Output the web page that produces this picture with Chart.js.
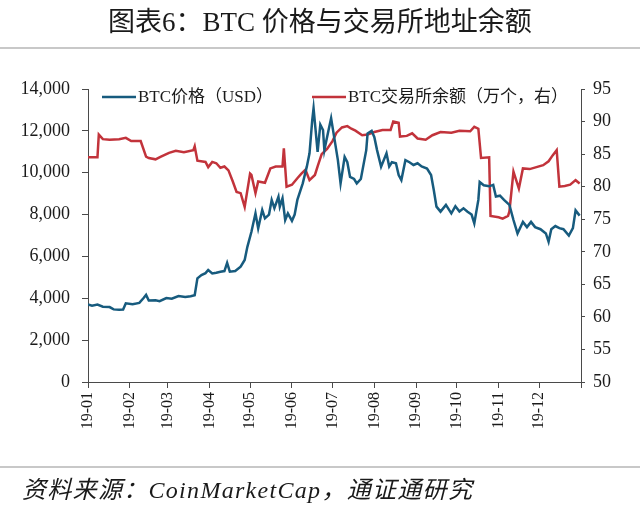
<!DOCTYPE html>
<html>
<head>
<meta charset="utf-8">
<script src="https://cdn.jsdelivr.net/npm/chart.js@4.4.1/dist/chart.umd.min.js"></script>
<style>
    html, body { margin: 0; padding: 0; background: #fff; }
    #wrap { position: relative; width: 640px; height: 507px; overflow: hidden; }
    #chart { position: absolute; left: 0; top: 0; }
    .title {
        position: absolute; left: 0; top: 5px; width: 640px; text-align: center;
        font-family: "Liberation Serif", "Noto Sans CJK SC", serif;
        font-size: 27px; line-height: 34px; color: #1a1a1a;
    }
    .rule { position: absolute; left: 0; width: 640px; height: 2px; background: #c8c8c8; }
    .source {
        position: absolute; left: 22px; top: 474px;
        font-family: "Liberation Serif", "Noto Sans CJK SC", serif;
        font-style: italic; font-size: 24px; letter-spacing: 1.3px; line-height: 32px; color: #1a1a1a;
    }
</style>
</head>
<body>
<div id="wrap">
    <canvas id="chart" width="640" height="507"></canvas>
    <div class="title">图表6：BTC 价格与交易所地址余额</div>
    <div class="rule" style="top:47px"></div>
    <div class="rule" style="top:466px"></div>
    <div class="source">资料来源：CoinMarketCap，通证通研究</div>
</div>
<script>
// --- Data (day of year 2019) ---

const monthTicks = [0, 31, 59, 90, 120, 151, 181, 212, 243, 273, 304, 334, 365];
const monthLabels = ['19-01', '19-02', '19-03', '19-04', '19-05', '19-06',
    '19-07', '19-08', '19-09', '19-10', '19-11', '19-12', ''];

const priceDays = [0, 3, 7, 11, 16, 19, 23, 26, 28, 33, 38, 41, 43, 45, 50, 53, 58, 62, 67, 72,
    76, 79, 81, 84, 87, 89, 92, 95, 98, 101, 103, 105, 109, 113, 116, 118, 121, 124, 126, 129,
    131, 134, 136, 138, 141, 142, 144, 146, 148, 151, 153, 155, 159, 162, 164, 166, 167, 170, 172, 174,
    175, 178, 180, 183, 185, 187, 190, 192, 194, 197, 199, 202, 206, 207, 210, 212, 214, 217, 221, 223,
    225, 228, 230, 232, 235, 238, 241, 244, 247, 251, 254, 256, 258, 261, 265, 269, 272, 275, 278, 281,
    284, 286, 289, 290, 293, 297, 300, 302, 305, 308, 312, 315, 318, 322, 325, 328, 331, 335, 339, 341,
    343, 346, 349, 352, 356, 359, 361, 364];
const priceValues = [3710, 3650, 3700, 3600, 3580, 3470, 3450, 3460, 3760, 3720, 3780, 4000, 4160, 3890, 3900, 3860, 4010, 3980, 4110, 4060,
    4100, 4150, 4950, 5110, 5200, 5350, 5190, 5220, 5270, 5300, 5690, 5270, 5300, 5510, 5830, 6460, 7180, 8060, 7340, 8220,
    7820, 8000, 8700, 8310, 8850, 8380, 8780, 7740, 8060, 7700, 8000, 8700, 9490, 10290, 10930, 12500, 13080, 11000, 12300, 12040,
    11080, 12000, 12600, 11400, 10600, 9490, 10750, 10500, 9800, 9700, 9490, 9700, 11080, 11880, 12000, 11700, 11080, 10290, 10930, 10300,
    10500, 10450, 9890, 9650, 10600, 10500, 10370, 10450, 10300, 10200, 9890, 9170, 8380, 8140, 8460, 8060, 8400, 8150, 8300, 8140,
    8000, 7580, 8700, 9560, 9400, 9350, 9420, 8860, 8900, 8700, 8460, 7740, 7100, 7650, 7400, 7650, 7400, 7300, 7100, 6700,
    7300, 7450, 7350, 7300, 7000, 7350, 8200, 7950];

const reserveDays = [0, 7, 8, 11, 16, 23, 28, 32, 39, 43, 45, 50, 54, 60, 65, 71, 78, 79, 81, 87,
    89, 92, 95, 98, 101, 104, 107, 110, 113, 116, 120, 121, 124, 126, 131, 135, 139, 144, 145, 147,
    151, 155, 158, 161, 164, 168, 170, 173, 177, 181, 184, 188, 192, 195, 198, 203, 207, 212, 218, 224,
    226, 230, 231, 236, 240, 244, 250, 255, 261, 269, 275, 283, 286, 289, 291, 297, 298, 304, 307, 311,
    312, 315, 317, 319, 322, 327, 332, 337, 341, 344, 347, 349, 353, 357, 361, 364];
const reserveValues = [84.5, 84.5, 88.0, 87.3, 87.2, 87.3, 87.5, 87.0, 87.0, 84.6, 84.4, 84.2, 84.6, 85.2, 85.5, 85.3, 85.6, 86.2, 84.0, 83.8,
    83.0, 83.8, 83.6, 82.9, 83.1, 82.5, 80.9, 79.2, 79.0, 76.9, 82.0, 81.8, 79.0, 80.8, 80.6, 82.8, 83.1, 83.1, 85.9, 80.0,
    80.3, 81.3, 82.0, 82.6, 81.0, 81.8, 83.1, 85.0, 85.8, 87.0, 88.3, 89.1, 89.3, 88.9, 88.6, 87.9, 88.0, 88.4, 88.7, 88.7,
    90.0, 89.8, 87.7, 87.8, 88.2, 87.4, 87.2, 87.9, 88.4, 88.3, 88.6, 88.5, 89.2, 88.9, 84.4, 84.5, 75.5, 75.3, 75.1, 75.5,
    76.2, 82.3, 81.0, 79.7, 82.8, 82.7, 83.0, 83.3, 83.9, 84.8, 85.6, 80.0, 80.1, 80.3, 81.0, 80.5];

const seriesNames = ['BTC价格（USD）', 'BTC交易所余额（万个，右）'];
const BLUE = '#175b7e';
const RED = '#c2333b';
const AXIS = '#4a4a4a';
const FONT = '"Liberation Serif", "Noto Sans CJK SC", serif';

const toPoints = (xs, ys) => xs.map((x, i) => ({ x, y: ys[i] }));

// --- Legend drawn inside the plot area ---

const insideLegend = {
    id: 'insideLegend',
    afterDraw(chart) {
        const { ctx, chartArea } = chart;
        const offsets = [14, 224];
        ctx.save();
        ctx.font = '17px ' + FONT;
        ctx.textBaseline = 'middle';
        chart.data.datasets.forEach((ds, i) => {
            const x = chartArea.left + offsets[i];
            const y = chartArea.top + 8;
            ctx.strokeStyle = ds.borderColor;
            ctx.lineWidth = 2.5;
            ctx.beginPath();
            ctx.moveTo(x, y);
            ctx.lineTo(x + 34, y);
            ctx.stroke();
            ctx.fillStyle = '#1a1a1a';
            ctx.fillText(ds.label, x + 36, y + 1);
        });
        ctx.restore();
    }
};

new Chart(document.getElementById('chart'), {
    type: 'line',
    data: {
        datasets: [{
            label: seriesNames[0],
            data: toPoints(priceDays, priceValues),
            borderColor: BLUE,
            borderWidth: 2.5,
            pointRadius: 0,
            yAxisID: 'y'
        }, {
            label: seriesNames[1],
            data: toPoints(reserveDays, reserveValues),
            borderColor: RED,
            borderWidth: 2.5,
            pointRadius: 0,
            yAxisID: 'y1'
        }]
    },
    options: {
        responsive: false,
        animation: false,
        layout: { padding: { top: 89, left: 0, right: 0, bottom: 0 } },
        plugins: { legend: { display: false }, tooltip: { enabled: false } },
        scales: {
            x: {
                type: 'linear',
                min: 0,
                max: 365,
                afterBuildTicks: (scale) => { scale.ticks = monthTicks.map(v => ({ value: v })); },
                afterFit: (scale) => { scale.height = 125; },
                ticks: {
                    autoSkip: false,
                    minRotation: 90,
                    maxRotation: 90,
                    padding: 4,
                    color: '#1a1a1a',
                    font: { family: FONT, size: 16 },
                    callback: (value) => monthLabels[monthTicks.indexOf(value)]
                },
                grid: { drawOnChartArea: false, tickLength: 6, color: AXIS },
                border: { color: AXIS, width: 1 }
            },
            y: {
                position: 'left',
                min: 0,
                max: 14000,
                afterFit: (scale) => { scale.width = 88; },
                ticks: {
                    stepSize: 2000,
                    padding: 12,
                    color: '#1a1a1a',
                    font: { family: FONT, size: 18 },
                    callback: (value) => value.toLocaleString('en-US')
                },
                grid: { drawOnChartArea: false, tickLength: 6, color: AXIS },
                border: { color: AXIS, width: 1 }
            },
            y1: {
                position: 'right',
                min: 50,
                max: 95,
                afterFit: (scale) => { scale.width = 59; },
                ticks: {
                    stepSize: 5,
                    padding: 8,
                    color: '#1a1a1a',
                    font: { family: FONT, size: 18 }
                },
                grid: { drawOnChartArea: false, tickLength: 4, color: AXIS },
                border: { color: AXIS, width: 1 }
            }
        }
    },
    plugins: [insideLegend]
});
</script>
</body>
</html>
